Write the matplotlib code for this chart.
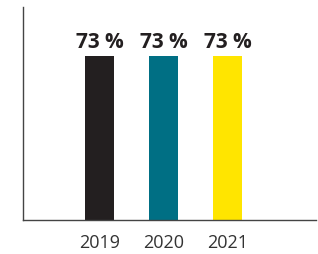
import matplotlib.pyplot as plt

# Data
years = ['2019', '2020', '2021']
values = [73, 73, 73]
labels = ['73 %', '73 %', '73 %']
colors = ['#231f20', '#006f84', '#ffe500']

plt.rcParams['font.family'] = ['Open Sans', 'DejaVu Sans']

fig = plt.figure(figsize=(3.18, 2.54), dpi=100)
ax = fig.add_axes([0.0723, 0.1339, 0.9214, 0.8386])

x = range(len(years))
ax.bar(x, values, width=0.45, color=colors)

for i, (v, lab) in enumerate(zip(values, labels)):
    ax.text(i, v + 1.4, lab, ha='center', va='bottom', fontsize=15,
            fontweight='bold', color='#231f20')

ax.set_xlim(-1.195, 3.38)
ax.set_ylim(0, 95)
ax.set_xticks(list(x))
ax.set_xticklabels(years, fontsize=13, color='#333333')
ax.tick_params(axis='x', length=0, pad=10)
ax.set_yticks([])

for s in ['top', 'right']:
    ax.spines[s].set_visible(False)
ax.spines['left'].set_color('#444444')
ax.spines['bottom'].set_color('#444444')
ax.spines['left'].set_linewidth(1.0)
ax.spines['bottom'].set_linewidth(1.0)

fig.savefig('out.png', dpi=100)
